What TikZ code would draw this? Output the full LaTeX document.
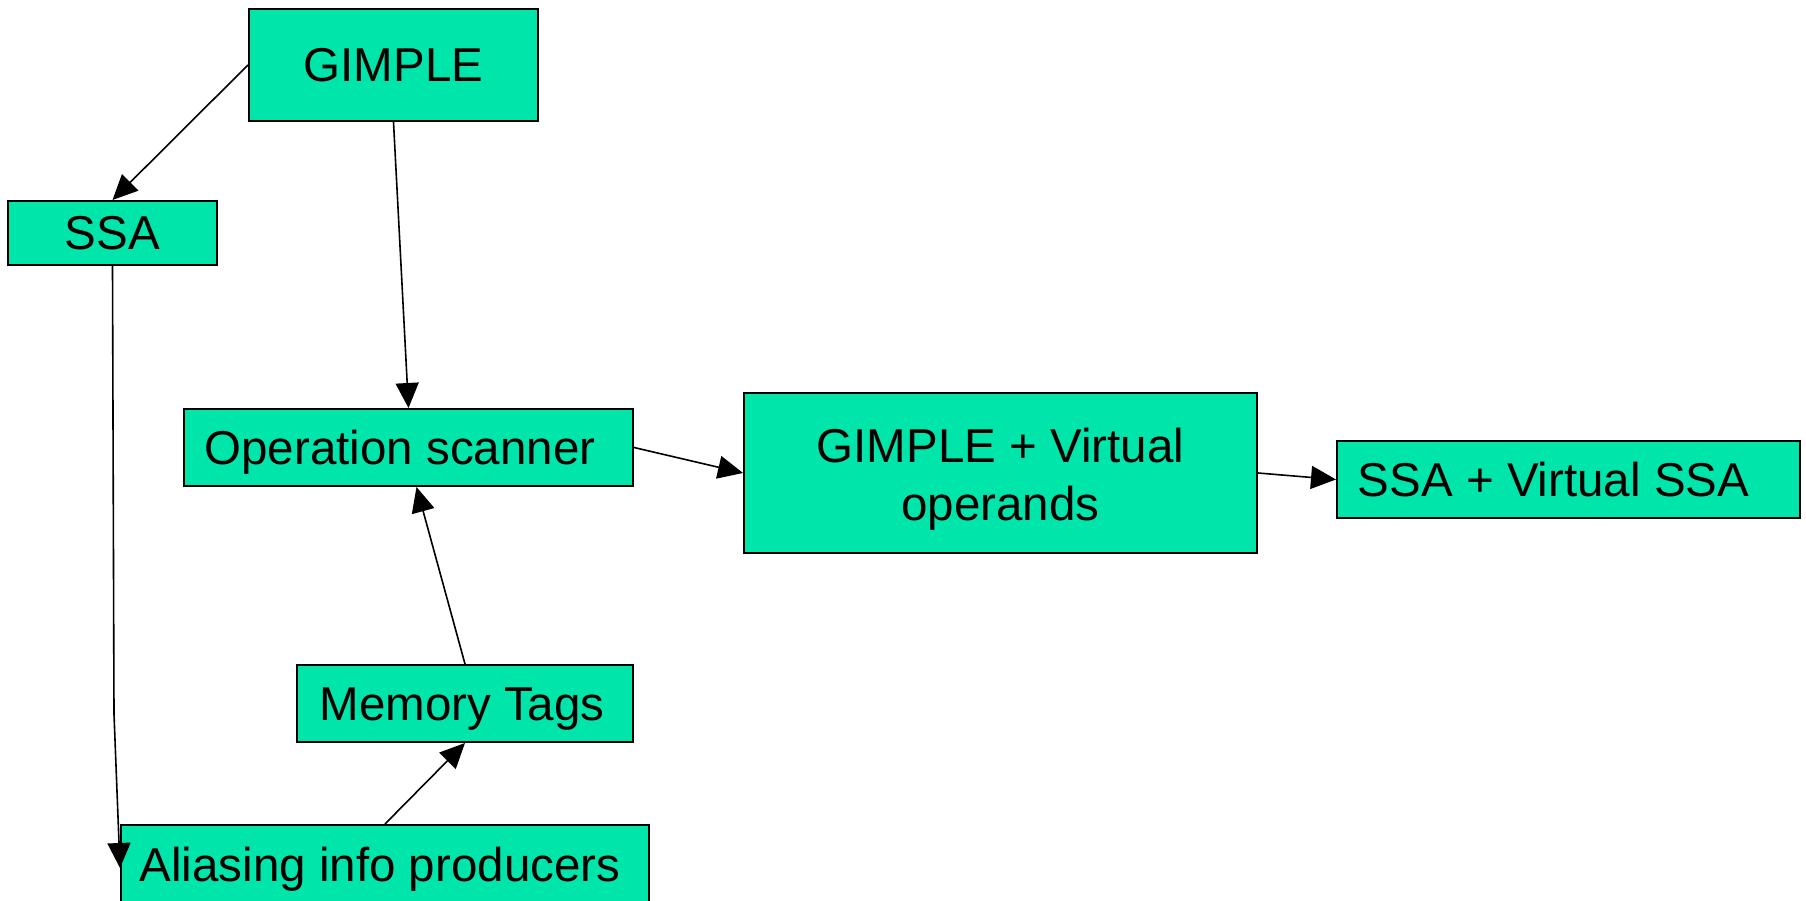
\documentclass[tikz,border=0pt]{standalone}
\usepackage{fontspec}
\setmainfont{Liberation Sans}
\usetikzlibrary{arrows.meta,calc}
\definecolor{boxgreen}{RGB}{0,229,170}
\tikzset{
  stagebox/.style={draw=black, line width=2pt, fill=boxgreen, inner sep=0pt,
    font=\fontsize{47.5}{58}\selectfont, align=center},
  oneline/.style={text height=34pt, text depth=0pt},
  flow/.style={draw=black, line width=1.6pt,
    -{Triangle[length=25pt,width=23pt]}},
}
\begin{document}
\begin{tikzpicture}[x=1pt,y=-1pt]
  \clip (0,0) rectangle (1806,901);
  \useasboundingbox (0,0) rectangle (1806,901);

  % stages of the pipeline
  \node[stagebox, oneline, minimum width=289pt, minimum height=112pt] (gimple) at (393.5,65) {GIMPLE};
  \node[stagebox, oneline, minimum width=209pt, minimum height=64pt] (ssa) at (112.5,233) {SSA};
  \node[stagebox, oneline, minimum width=449pt, minimum height=77pt] (opscan) at (408.5,447.5) {Operation scanner\hspace{17pt}};
  \node[stagebox, minimum width=513pt, minimum height=160pt] (gvop) at (1000.5,473) {\rule{0pt}{47pt}GIMPLE + Virtual\\operands};
  \node[stagebox, oneline, minimum width=463pt, minimum height=77pt] (ssav) at (1568.5,479.5) {SSA + Virtual SSA\hspace{30pt}};
  \node[stagebox, oneline, minimum width=336pt, minimum height=77pt] (memtags) at (465,703.5) {Memory Tags\hspace{6pt}};
  \node[stagebox, oneline, minimum width=528pt, minimum height=78pt] (alias) at (385,864) {Aliasing info producers\hspace{10pt}};

  % data flow between stages
  \draw[flow] (gimple.west) -- (ssa.north);
  \draw[flow] (gimple.south) -- (opscan.north);
  \draw[flow] (opscan.east) -- (gvop.west);
  \draw[flow] (gvop.east) -- (ssav.west);
  \draw[flow] (memtags.north) -- ([xshift=8pt]opscan.south);
  \draw[flow] (alias.north) -- (memtags.south);
  \coordinate (ssabend) at (114,714);
  \draw[flow] (ssa.south) -- (ssabend) -- ([yshift=-4pt]alias.west);
\end{tikzpicture}
\end{document}
